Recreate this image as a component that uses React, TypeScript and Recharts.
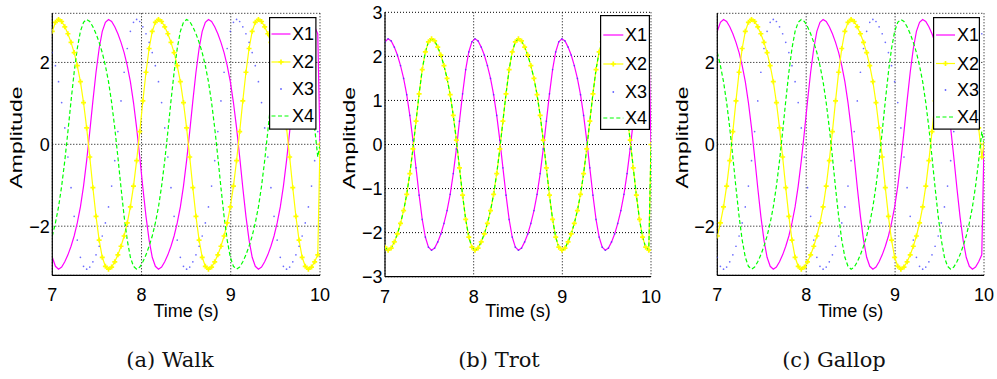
import React from 'react';
import { LineChart, Line, XAxis, YAxis, CartesianGrid, Legend, Label } from 'recharts';

// Sample times (s); the last sample at t = 10 is the zero tail seen at the right edge.
const TIME = [
  7, 7.035, 7.07, 7.105, 7.14, 7.175, 7.21, 7.245,
  7.28, 7.315, 7.35, 7.385, 7.42, 7.455, 7.49, 7.525,
  7.56, 7.595, 7.63, 7.665, 7.7, 7.735, 7.77, 7.805,
  7.84, 7.875, 7.91, 7.945, 7.98, 8.015, 8.05, 8.085,
  8.12, 8.155, 8.19, 8.225, 8.26, 8.295, 8.33, 8.365,
  8.4, 8.435, 8.47, 8.505, 8.54, 8.575, 8.61, 8.645,
  8.68, 8.715, 8.75, 8.785, 8.82, 8.855, 8.89, 8.925,
  8.96, 8.995, 9.03, 9.065, 9.1, 9.135, 9.17, 9.205,
  9.24, 9.275, 9.31, 9.345, 9.38, 9.415, 9.45, 9.485,
  9.52, 9.555, 9.59, 9.625, 9.66, 9.695, 9.73, 9.765,
  9.8, 9.835, 9.87, 9.905, 9.94, 9.975, 10,
];

// ---- (a) Walk ----
const WALK_X1 = [
  -2.76, -2.98, -3.05, -3.0, -2.87, -2.7, -2.49, -2.24,
  -1.92, -1.53, -1.02, -0.4, 0.31, 1.06, 1.76, 2.34,
  2.76, 2.98, 3.05, 3.0, 2.87, 2.7, 2.49, 2.24,
  1.92, 1.53, 1.02, 0.4, -0.31, -1.06, -1.76, -2.34,
  -2.76, -2.98, -3.05, -3.0, -2.87, -2.7, -2.49, -2.24,
  -1.92, -1.53, -1.02, -0.4, 0.31, 1.06, 1.76, 2.34,
  2.76, 2.98, 3.05, 3.0, 2.87, 2.7, 2.49, 2.24,
  1.92, 1.53, 1.02, 0.4, -0.31, -1.06, -1.76, -2.34,
  -2.76, -2.98, -3.05, -3.0, -2.87, -2.7, -2.49, -2.24,
  -1.92, -1.53, -1.02, -0.4, 0.31, 1.06, 1.76, 2.34,
  2.76, 2.98, 3.05, 3.0, 2.87, 2.7, 0,
];
const WALK_X2 = [
  2.76, 2.98, 3.05, 3.0, 2.87, 2.7, 2.49, 2.24,
  1.92, 1.53, 1.02, 0.4, -0.31, -1.06, -1.76, -2.34,
  -2.76, -2.98, -3.05, -3.0, -2.87, -2.7, -2.49, -2.24,
  -1.92, -1.53, -1.02, -0.4, 0.31, 1.06, 1.76, 2.34,
  2.76, 2.98, 3.05, 3.0, 2.87, 2.7, 2.49, 2.24,
  1.92, 1.53, 1.02, 0.4, -0.31, -1.06, -1.76, -2.34,
  -2.76, -2.98, -3.05, -3.0, -2.87, -2.7, -2.49, -2.24,
  -1.92, -1.53, -1.02, -0.4, 0.31, 1.06, 1.76, 2.34,
  2.76, 2.98, 3.05, 3.0, 2.87, 2.7, 2.49, 2.24,
  1.92, 1.53, 1.02, 0.4, -0.31, -1.06, -1.76, -2.34,
  -2.76, -2.98, -3.05, -3.0, -2.87, -2.7, 0,
];
const WALK_X3 = [
  2.24, 1.92, 1.53, 1.02, 0.4, -0.31, -1.06, -1.76,
  -2.34, -2.76, -2.98, -3.05, -3.0, -2.87, -2.7, -2.49,
  -2.24, -1.92, -1.53, -1.02, -0.4, 0.31, 1.06, 1.76,
  2.34, 2.76, 2.98, 3.05, 3.0, 2.87, 2.7, 2.49,
  2.24, 1.92, 1.53, 1.02, 0.4, -0.31, -1.06, -1.76,
  -2.34, -2.76, -2.98, -3.05, -3.0, -2.87, -2.7, -2.49,
  -2.24, -1.92, -1.53, -1.02, -0.4, 0.31, 1.06, 1.76,
  2.34, 2.76, 2.98, 3.05, 3.0, 2.87, 2.7, 2.49,
  2.24, 1.92, 1.53, 1.02, 0.4, -0.31, -1.06, -1.76,
  -2.34, -2.76, -2.98, -3.05, -3.0, -2.87, -2.7, -2.49,
  -2.24, -1.92, -1.53, -1.02, -0.4, 0.31, 0,
];
const WALK_X4 = [
  -2.24, -1.92, -1.53, -1.02, -0.4, 0.31, 1.06, 1.76,
  2.34, 2.76, 2.98, 3.05, 3.0, 2.87, 2.7, 2.49,
  2.24, 1.92, 1.53, 1.02, 0.4, -0.31, -1.06, -1.76,
  -2.34, -2.76, -2.98, -3.05, -3.0, -2.87, -2.7, -2.49,
  -2.24, -1.92, -1.53, -1.02, -0.4, 0.31, 1.06, 1.76,
  2.34, 2.76, 2.98, 3.05, 3.0, 2.87, 2.7, 2.49,
  2.24, 1.92, 1.53, 1.02, 0.4, -0.31, -1.06, -1.76,
  -2.34, -2.76, -2.98, -3.05, -3.0, -2.87, -2.7, -2.49,
  -2.24, -1.92, -1.53, -1.02, -0.4, 0.31, 1.06, 1.76,
  2.34, 2.76, 2.98, 3.05, 3.0, 2.87, 2.7, 2.49,
  2.24, 1.92, 1.53, 1.02, 0.4, -0.31, 0,
];

// ---- (b) Trot ----
const TROT_X1 = [
  2.33, 2.4, 2.35, 2.21, 2.03, 1.79, 1.5,
  1.13, 0.66, 0.1, -0.53, -1.15, -1.7, -2.1,
  -2.33, -2.4, -2.35, -2.21, -2.03, -1.79, -1.5,
  -1.13, -0.66, -0.1, 0.53, 1.15, 1.7, 2.1,
  2.33, 2.4, 2.35, 2.21, 2.03, 1.79, 1.5,
  1.13, 0.66, 0.1, -0.53, -1.15, -1.7, -2.1,
  -2.33, -2.4, -2.35, -2.21, -2.03, -1.79, -1.5,
  -1.13, -0.66, -0.1, 0.53, 1.15, 1.7, 2.1,
  2.33, 2.4, 2.35, 2.21, 2.03, 1.79, 1.5,
  1.13, 0.66, 0.1, -0.53, -1.15, -1.7, -2.1,
  -2.33, -2.4, -2.35, -2.21, -2.03, -1.79, -1.5,
  -1.13, -0.66, -0.1, 0.53, 1.15, 1.7, 2.1,
  2.33, 2.4, 0,
];
const TROT_X2 = [
  -2.33, -2.4, -2.35, -2.21, -2.03, -1.79, -1.5,
  -1.13, -0.66, -0.1, 0.53, 1.15, 1.7, 2.1,
  2.33, 2.4, 2.35, 2.21, 2.03, 1.79, 1.5,
  1.13, 0.66, 0.1, -0.53, -1.15, -1.7, -2.1,
  -2.33, -2.4, -2.35, -2.21, -2.03, -1.79, -1.5,
  -1.13, -0.66, -0.1, 0.53, 1.15, 1.7, 2.1,
  2.33, 2.4, 2.35, 2.21, 2.03, 1.79, 1.5,
  1.13, 0.66, 0.1, -0.53, -1.15, -1.7, -2.1,
  -2.33, -2.4, -2.35, -2.21, -2.03, -1.79, -1.5,
  -1.13, -0.66, -0.1, 0.53, 1.15, 1.7, 2.1,
  2.33, 2.4, 2.35, 2.21, 2.03, 1.79, 1.5,
  1.13, 0.66, 0.1, -0.53, -1.15, -1.7, -2.1,
  -2.33, -2.4, 0,
];
const TROT_X3 = [
  2.33, 2.4, 2.35, 2.21, 2.03, 1.79, 1.5,
  1.13, 0.66, 0.1, -0.53, -1.15, -1.7, -2.1,
  -2.33, -2.4, -2.35, -2.21, -2.03, -1.79, -1.5,
  -1.13, -0.66, -0.1, 0.53, 1.15, 1.7, 2.1,
  2.33, 2.4, 2.35, 2.21, 2.03, 1.79, 1.5,
  1.13, 0.66, 0.1, -0.53, -1.15, -1.7, -2.1,
  -2.33, -2.4, -2.35, -2.21, -2.03, -1.79, -1.5,
  -1.13, -0.66, -0.1, 0.53, 1.15, 1.7, 2.1,
  2.33, 2.4, 2.35, 2.21, 2.03, 1.79, 1.5,
  1.13, 0.66, 0.1, -0.53, -1.15, -1.7, -2.1,
  -2.33, -2.4, -2.35, -2.21, -2.03, -1.79, -1.5,
  -1.13, -0.66, -0.1, 0.53, 1.15, 1.7, 2.1,
  2.33, 2.4, 0,
];
const TROT_X4 = [
  -2.33, -2.4, -2.35, -2.21, -2.03, -1.79, -1.5,
  -1.13, -0.66, -0.1, 0.53, 1.15, 1.7, 2.1,
  2.33, 2.4, 2.35, 2.21, 2.03, 1.79, 1.5,
  1.13, 0.66, 0.1, -0.53, -1.15, -1.7, -2.1,
  -2.33, -2.4, -2.35, -2.21, -2.03, -1.79, -1.5,
  -1.13, -0.66, -0.1, 0.53, 1.15, 1.7, 2.1,
  2.33, 2.4, 2.35, 2.21, 2.03, 1.79, 1.5,
  1.13, 0.66, 0.1, -0.53, -1.15, -1.7, -2.1,
  -2.33, -2.4, -2.35, -2.21, -2.03, -1.79, -1.5,
  -1.13, -0.66, -0.1, 0.53, 1.15, 1.7, 2.1,
  2.33, 2.4, 2.35, 2.21, 2.03, 1.79, 1.5,
  1.13, 0.66, 0.1, -0.53, -1.15, -1.7, -2.1,
  -2.33, -2.4, 0,
];

// ---- (c) Gallop ----
const GALLOP_X1 = [
  2.76, 2.98, 3.05, 3.0, 2.87, 2.7, 2.49, 2.24,
  1.92, 1.53, 1.02, 0.4, -0.31, -1.06, -1.76, -2.34,
  -2.76, -2.98, -3.05, -3.0, -2.87, -2.7, -2.49, -2.24,
  -1.92, -1.53, -1.02, -0.4, 0.31, 1.06, 1.76, 2.34,
  2.76, 2.98, 3.05, 3.0, 2.87, 2.7, 2.49, 2.24,
  1.92, 1.53, 1.02, 0.4, -0.31, -1.06, -1.76, -2.34,
  -2.76, -2.98, -3.05, -3.0, -2.87, -2.7, -2.49, -2.24,
  -1.92, -1.53, -1.02, -0.4, 0.31, 1.06, 1.76, 2.34,
  2.76, 2.98, 3.05, 3.0, 2.87, 2.7, 2.49, 2.24,
  1.92, 1.53, 1.02, 0.4, -0.31, -1.06, -1.76, -2.34,
  -2.76, -2.98, -3.05, -3.0, -2.87, -2.7, 0,
];
const GALLOP_X2 = [
  -2.24, -1.92, -1.53, -1.02, -0.4, 0.31, 1.06, 1.76,
  2.34, 2.76, 2.98, 3.05, 3.0, 2.87, 2.7, 2.49,
  2.24, 1.92, 1.53, 1.02, 0.4, -0.31, -1.06, -1.76,
  -2.34, -2.76, -2.98, -3.05, -3.0, -2.87, -2.7, -2.49,
  -2.24, -1.92, -1.53, -1.02, -0.4, 0.31, 1.06, 1.76,
  2.34, 2.76, 2.98, 3.05, 3.0, 2.87, 2.7, 2.49,
  2.24, 1.92, 1.53, 1.02, 0.4, -0.31, -1.06, -1.76,
  -2.34, -2.76, -2.98, -3.05, -3.0, -2.87, -2.7, -2.49,
  -2.24, -1.92, -1.53, -1.02, -0.4, 0.31, 1.06, 1.76,
  2.34, 2.76, 2.98, 3.05, 3.0, 2.87, 2.7, 2.49,
  2.24, 1.92, 1.53, 1.02, 0.4, -0.31, 0,
];
const GALLOP_X3 = [
  -2.76, -2.98, -3.05, -3.0, -2.87, -2.7, -2.49, -2.24,
  -1.92, -1.53, -1.02, -0.4, 0.31, 1.06, 1.76, 2.34,
  2.76, 2.98, 3.05, 3.0, 2.87, 2.7, 2.49, 2.24,
  1.92, 1.53, 1.02, 0.4, -0.31, -1.06, -1.76, -2.34,
  -2.76, -2.98, -3.05, -3.0, -2.87, -2.7, -2.49, -2.24,
  -1.92, -1.53, -1.02, -0.4, 0.31, 1.06, 1.76, 2.34,
  2.76, 2.98, 3.05, 3.0, 2.87, 2.7, 2.49, 2.24,
  1.92, 1.53, 1.02, 0.4, -0.31, -1.06, -1.76, -2.34,
  -2.76, -2.98, -3.05, -3.0, -2.87, -2.7, -2.49, -2.24,
  -1.92, -1.53, -1.02, -0.4, 0.31, 1.06, 1.76, 2.34,
  2.76, 2.98, 3.05, 3.0, 2.87, 2.7, 0,
];
const GALLOP_X4 = [
  2.24, 1.92, 1.53, 1.02, 0.4, -0.31, -1.06, -1.76,
  -2.34, -2.76, -2.98, -3.05, -3.0, -2.87, -2.7, -2.49,
  -2.24, -1.92, -1.53, -1.02, -0.4, 0.31, 1.06, 1.76,
  2.34, 2.76, 2.98, 3.05, 3.0, 2.87, 2.7, 2.49,
  2.24, 1.92, 1.53, 1.02, 0.4, -0.31, -1.06, -1.76,
  -2.34, -2.76, -2.98, -3.05, -3.0, -2.87, -2.7, -2.49,
  -2.24, -1.92, -1.53, -1.02, -0.4, 0.31, 1.06, 1.76,
  2.34, 2.76, 2.98, 3.05, 3.0, 2.87, 2.7, 2.49,
  2.24, 1.92, 1.53, 1.02, 0.4, -0.31, -1.06, -1.76,
  -2.34, -2.76, -2.98, -3.05, -3.0, -2.87, -2.7, -2.49,
  -2.24, -1.92, -1.53, -1.02, -0.4, 0.31, 0,
];

const X_TICKS = [7, 8, 9, 10];
const Y_TICKS_AC = [-2, 0, 2];
const Y_TICKS_B = [-3, -2, -1, 0, 1, 2, 3];
const SERIES_NAMES = ['X1', 'X2', 'X3', 'X4'];
const CAPTIONS = ['(a)\u00a0Walk', '(b)\u00a0Trot', '(c)\u00a0Gallop'];

type Row = { t: number; x1: number; x2: number; x3: number; x4: number };
const makeRows = (a: number[], b: number[], c: number[], d: number[]): Row[] =>
  TIME.map((t, i) => ({ t, x1: a[i], x2: b[i], x3: c[i], x4: d[i] }));

const SANS = '"Liberation Sans", Arial, Helvetica, sans-serif';
const C_X1 = '#ff00ff';
const C_X2 = '#ffff00';
const C_X3 = '#3b3bff';
const C_X4 = '#00ff00';
const CHART_H = 330;

type PanelCfg = {
  left: number;
  width: number;
  plotLeft: number;
  plotRight: number;
  plotTop: number;
  plotBottom: number;
  yDomain: [number, number];
  yTicks: number[];
  rows: Row[];
  legend: { left: number; top: number; w: number; h: number; rows: number[]; line: [number, number]; text: number };
  ylabelX: number;
  ylabelY: number;
};

const PANELS: PanelCfg[] = [
  {
    left: 0, width: 330, plotLeft: 52.3, plotRight: 320, plotTop: 13.3, plotBottom: 275.3,
    yDomain: [-3.2, 3.2], yTicks: Y_TICKS_AC, rows: makeRows(WALK_X1, WALK_X2, WALK_X3, WALK_X4),
    legend: { left: 269.3, top: 17.3, w: 47.5, h: 112.7, rows: [17, 45, 72, 99], line: [2.5, 21.5], text: 23 },
    ylabelX: 21.7, ylabelY: 137.5,
  },
  {
    left: 330, width: 335, plotLeft: 55, plotRight: 321, plotTop: 12.3, plotBottom: 276.7,
    yDomain: [-3, 3], yTicks: Y_TICKS_B, rows: makeRows(TROT_X1, TROT_X2, TROT_X3, TROT_X4),
    legend: { left: 270, top: 15, w: 50, h: 115, rows: [20, 49, 77, 103], line: [3.3, 23.3], text: 25 },
    ylabelX: 25, ylabelY: 138,
  },
  {
    left: 665, width: 332, plotLeft: 52.3, plotRight: 319, plotTop: 13.3, plotBottom: 275.3,
    yDomain: [-3.2, 3.2], yTicks: Y_TICKS_AC, rows: makeRows(GALLOP_X1, GALLOP_X2, GALLOP_X3, GALLOP_X4),
    legend: { left: 268.3, top: 17.3, w: 47, h: 112.7, rows: [18, 46.5, 73, 100], line: [3, 22], text: 24 },
    ylabelX: 23.4, ylabelY: 137.5,
  },
];

const fmt = (v: number) => (v < 0 ? '\u2212' + Math.abs(v) : String(v));

const plusPath = (cx: number, cy: number, s: number) =>
  `M${cx - s},${cy}H${cx + s}M${cx},${cy - s}V${cy + s}`;

const LegendBox = ({ cfg }: { cfg: PanelCfg['legend'] }) => {
  const [x0, x1] = cfg.line;
  const mid = (x0 + x1) / 2;
  return (
    <svg width={cfg.w} height={cfg.h} style={{ display: 'block', overflow: 'visible' }}>
      <rect x={0.6} y={0.6} width={cfg.w - 1.2} height={cfg.h - 1.2} fill="#fff" stroke="#000" strokeWidth={1.2} />
      {SERIES_NAMES.map((name, i) => {
        const y = cfg.rows[i];
        let sample: React.ReactNode = null;
        if (i === 0) sample = <line x1={x0} x2={x1} y1={y} y2={y} stroke={C_X1} strokeWidth={1.2} />;
        if (i === 1)
          sample = (
            <g>
              <line x1={x0} x2={x1} y1={y} y2={y} stroke={C_X2} strokeWidth={1.2} />
              <path d={plusPath(mid, y, 2.6)} stroke={C_X2} strokeWidth={1.7} fill="none" />
            </g>
          );
        if (i === 2) sample = <circle cx={mid} cy={y} r={0.9} fill={C_X3} opacity={0.8} />;
        if (i === 3)
          sample = <line x1={x0} x2={x1} y1={y} y2={y} stroke={C_X4} strokeWidth={1.2} strokeDasharray="4 2.5" />;
        return (
          <g key={name}>
            {sample}
            <text x={cfg.text} y={y + 6.4} fontSize={18} fontFamily={SANS} fill="#000">
              {name}
            </text>
          </g>
        );
      })}
    </svg>
  );
};

const Panel = ({ cfg }: { cfg: PanelCfg }) => {
  const xAxisH = CHART_H - cfg.plotBottom;
  const cxTitle = (cfg.plotLeft + cfg.plotRight) / 2;
  return (
    <LineChart
      width={cfg.width}
      height={CHART_H}
      data={cfg.rows}
      margin={{ top: cfg.plotTop, right: cfg.width - cfg.plotRight, bottom: 0, left: 0 }}
    >
      <CartesianGrid stroke="#000" strokeDasharray="1 2" strokeWidth={1} fill="none" />
      <XAxis
        dataKey="t"
        type="number"
        domain={[7, 10]}
        ticks={X_TICKS}
        interval={0}
        allowDataOverflow
        height={xAxisH}
        axisLine={{ stroke: '#000', strokeWidth: 1.2 }}
        tickLine={false}
        tickSize={0}
        tickMargin={0}
        tick={(p: any) => (
          <text x={p.x} y={cfg.plotBottom + 26} textAnchor="middle" fontSize={18} fontFamily={SANS} fill="#000">
            {p.payload.value}
          </text>
        )}
      >
        <Label
          content={() => (
            <text x={cxTitle} y={316.5} textAnchor="middle" fontSize={18} fontFamily={SANS} fill="#000">
              Time (s)
            </text>
          )}
        />
      </XAxis>
      <YAxis
        type="number"
        domain={cfg.yDomain}
        ticks={cfg.yTicks}
        interval={0}
        allowDataOverflow
        width={cfg.plotLeft}
        axisLine={{ stroke: '#000', strokeWidth: 1.2 }}
        tickLine={false}
        tickSize={0}
        tickMargin={0}
        tick={(p: any) => (
          <text x={cfg.plotLeft - 2.5} y={p.y + 6.4} textAnchor="end" fontSize={18} fontFamily={SANS} fill="#000">
            {fmt(p.payload.value)}
          </text>
        )}
      >
        <Label
          content={() => (
            <text
              transform={`translate(${cfg.ylabelX},${cfg.ylabelY}) rotate(-90)`}
              textAnchor="middle"
              fontSize={16}
              fontFamily={SANS}
              fill="#000"
              textLength={102}
              lengthAdjust="spacingAndGlyphs"
            >
              Amplitude
            </text>
          )}
        />
      </YAxis>
      <Line
        dataKey="x1"
        name="X1"
        type="linear"
        stroke={C_X1}
        strokeWidth={1.2}
        dot={false}
        activeDot={false}
        isAnimationActive={false}
      />
      <Line
        dataKey="x2"
        name="X2"
        type="linear"
        stroke={C_X2}
        strokeWidth={1.2}
        dot={(p: any) => (
          <path key={`p${p.index}`} d={plusPath(p.cx, p.cy, 2.5)} stroke={C_X2} strokeWidth={1.7} fill="none" />
        )}
        activeDot={false}
        isAnimationActive={false}
      />
      <Line
        dataKey="x3"
        name="X3"
        type="linear"
        stroke="none"
        dot={(p: any) => (
          <circle key={`c${p.index}`} cx={p.cx} cy={p.cy} r={0.85} fill={C_X3} opacity={0.75} />
        )}
        activeDot={false}
        isAnimationActive={false}
      />
      <Line
        dataKey="x4"
        name="X4"
        type="linear"
        stroke={C_X4}
        strokeWidth={1.2}
        strokeDasharray="4 2.5"
        dot={false}
        activeDot={false}
        isAnimationActive={false}
      />
      <Legend
        layout="vertical"
        align="center"
        verticalAlign="middle"
        wrapperStyle={{ left: cfg.legend.left, top: cfg.legend.top, width: cfg.legend.w, height: cfg.legend.h }}
        content={() => <LegendBox cfg={cfg.legend} />}
      />
    </LineChart>
  );
};

const CAPTION_X = [170, 499, 834];

export default function App() {
  return (
    <div style={{ position: 'absolute', left: 0, top: 0, width: 997, height: 379, background: '#fff', overflow: 'hidden' }}>
      {PANELS.map((cfg, i) => (
        <div key={i} style={{ position: 'absolute', left: cfg.left, top: 0 }}>
          <Panel cfg={cfg} />
        </div>
      ))}
      <svg width={997} height={379} style={{ position: 'absolute', left: 0, top: 0, pointerEvents: 'none' }}>
        {CAPTIONS.map((c, i) => (
          <text
            key={c}
            x={CAPTION_X[i]}
            y={367}
            textAnchor="middle"
            fontSize={21}
            fontFamily='"DejaVu Serif", "Liberation Serif", serif'
            fill="#111"
          >
            {c}
          </text>
        ))}
      </svg>
    </div>
  );
}
